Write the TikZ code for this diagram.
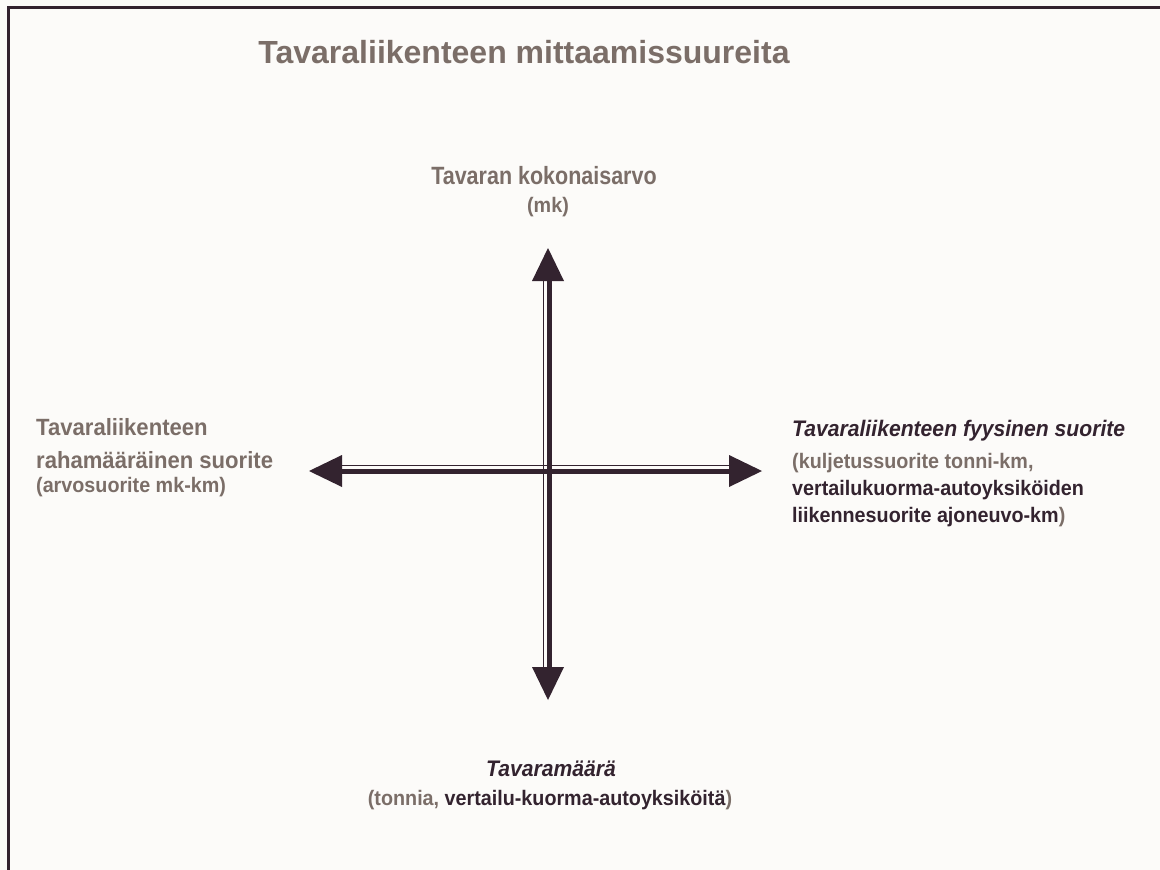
\documentclass[tikz,border=0pt]{standalone}
\usepackage{fontspec}
\setmainfont{Liberation Sans}
\newfontfamily\narrowsans[FakeStretch=0.94]{Liberation Sans}
\newfontfamily\topsans[FakeStretch=0.86]{Liberation Sans}
\definecolor{dk}{HTML}{33232F}
\definecolor{gr}{HTML}{7B6E68}
\definecolor{bg}{HTML}{FCFBF9}
\begin{document}
\begin{tikzpicture}[x=1pt,y=-1pt,
  lbl/.style={inner sep=0pt, font=\narrowsans\fontsize{23.5}{27}\selectfont\bfseries},
  lbli/.style={inner sep=0pt, font=\narrowsans\fontsize{22.5}{27}\selectfont\bfseries\itshape},
  sub/.style={inner sep=0pt, font=\narrowsans\fontsize{21}{24}\selectfont\bfseries},
  head/.style={fill=dk, draw=none},
  thick shaft/.style={draw=dk, line width=5.6pt},
  thin shaft/.style={draw=dk, line width=1.3pt}]
\fill[bg] (0,0) rectangle (1160,870);
\useasboundingbox (0,0) rectangle (1160,870);
\draw[dk, line width=3pt] (8.5,870) -- (8.5,7.5) -- (1160,7.5);

\node[anchor=base, inner sep=0pt, font=\fontsize{32}{36}\selectfont\bfseries, text=gr] (title) at (524,63) {Tavaraliikenteen mittaamissuureita};

\node[inner sep=0pt, font=\topsans\fontsize{25}{28}\selectfont\bfseries, anchor=base, text=gr] (top) at (544,184) {Tavaran kokonaisarvo};
\node[sub, anchor=base, text=gr] (topsub) at (548,212) {(mk)};

\node[lbl, anchor=base west, text=gr] (left1) at (36,435) {Tavaraliikenteen};
\node[lbl, anchor=base west, text=gr] (left2) at (36,468) {rahamääräinen suorite};
\node[sub, anchor=base west, text=gr] (left3) at (36,492) {(arvosuorite mk-km)};

\node[lbli, anchor=base west, text=dk] (right1) at (792,436) {Tavaraliikenteen fyysinen suorite};
\node[sub, anchor=base west, text=gr] (right2) at (792,468) {(kuljetussuorite tonni-km,};
\node[sub, anchor=base west, text=dk] (right3) at (792,495) {vertailukuorma-autoyksiköiden};
\node[sub, anchor=base west, text=dk] (right4) at (792,522) {liikennesuorite ajoneuvo-km\textcolor{gr}{)}};

\node[lbli, anchor=base, text=dk] (bot1) at (551,776) {Tavaramäärä};
\node[sub, anchor=base, text=dk] (bot2) at (550,805) {\textcolor{gr}{(tonnia,} vertailu-kuorma-autoyksiköitä\textcolor{gr}{)}};

\coordinate (N) at (548,248);
\coordinate (S) at (548,700);
\coordinate (W) at (309,471);
\coordinate (E) at (762,471);
\coordinate (Nb) at (549.5,280);
\coordinate (Sb) at (549.5,669);
\coordinate (Wb) at (341,471.5);
\coordinate (Eb) at (731,471.5);
\coordinate (Nt) at (543.6,280);
\coordinate (St) at (543.6,669);
\coordinate (Wt) at (341,465.6);
\coordinate (Et) at (731,465.6);

\draw[thin shaft] (Wt) -- (Et);
\draw[thin shaft] (Nt) -- (St);
\draw[thick shaft] (Wb) -- (Eb);
\draw[thick shaft] (Nb) -- (Sb);

\fill[head] (N) -- ++(-16,33) -- ++(32,0) -- cycle;
\fill[head] (S) -- ++(-16,-33) -- ++(32,0) -- cycle;
\fill[head] (W) -- ++(33,-16) -- ++(0,32) -- cycle;
\fill[head] (E) -- ++(-33,-16) -- ++(0,32) -- cycle;
\end{tikzpicture}
\end{document}
